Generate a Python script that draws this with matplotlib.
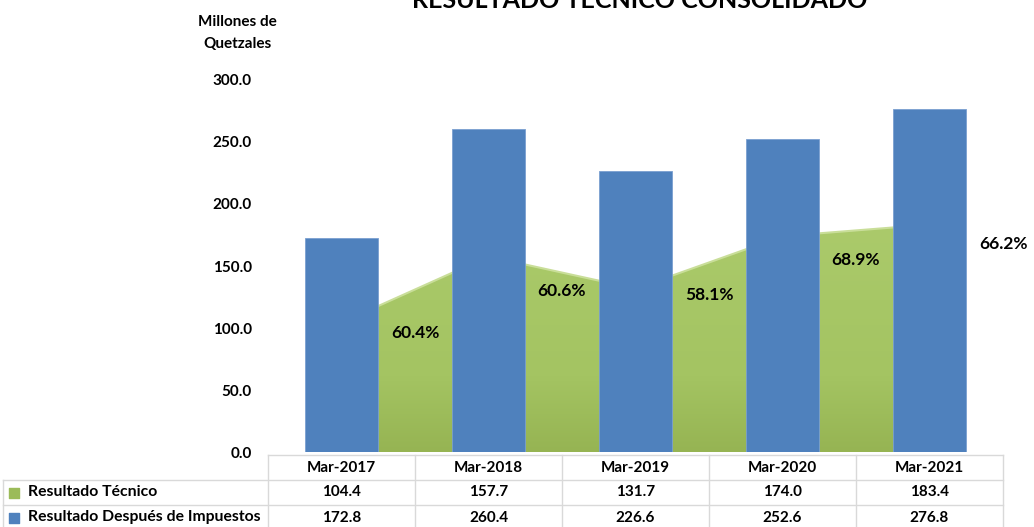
import numpy as np
import matplotlib
matplotlib.use("Agg")
import matplotlib.pyplot as plt
from matplotlib.transforms import blended_transform_factory
from matplotlib.colors import LinearSegmentedColormap

plt.rcParams['font.family'] = ['Lato', 'DejaVu Sans']
plt.rcParams['font.weight'] = 'bold'

# data
periods = ["Mar-2017", "Mar-2018", "Mar-2019", "Mar-2020", "Mar-2021"]
resultado_tecnico = [104.4, 157.7, 131.7, 174.0, 183.4]
resultado_despues = [172.8, 260.4, 226.6, 252.6, 276.8]
pct_labels = ["60.4%", "60.6%", "58.1%", "68.9%", "66.2%"]
pct_label_y = [96, 130, 127, 155, 168]
yticks = [0, 50, 100, 150, 200, 250, 300]

W, H = 1034, 527
fig = plt.figure(figsize=(W / 100, H / 100), dpi=100)
ax = fig.add_axes([268 / W, (H - 452) / H, (1003 - 268) / W, (452 - 80) / H])

x = np.arange(len(periods))
blue = '#4F81BD'

# green area with a vertical gradient, behind the bars
poly = ax.fill_between(x, resultado_tecnico, 0, color='none', zorder=1)
ax.plot(x, resultado_tecnico, color='#C9DE99', lw=1.5, zorder=2)
cmap = LinearSegmentedColormap.from_list('g', ['#96B453', '#A4C462', '#A7C766', '#ABCA6B'])
grad = np.linspace(0, 1, 256).reshape(-1, 1)
img = ax.imshow(grad, cmap=cmap, aspect='auto', origin='lower',
                extent=[0, 4, 0, max(resultado_tecnico)], zorder=1)
img.set_clip_path(poly.get_paths()[0], transform=ax.transData)

ax.bar(x, resultado_despues, width=0.5, color=blue, edgecolor='#7A9FD0', linewidth=0.6, zorder=3)

for i, (lab, ly) in enumerate(zip(pct_labels, pct_label_y)):
    ax.text(i + 0.5, ly, lab, ha='center', va='center', fontsize=12.5,
            fontweight='bold', zorder=5, clip_on=False)

ax.set_xlim(-0.5, 4.5)
ax.set_ylim(0, 300)
ax.set_yticks(yticks)
ax.set_yticklabels(["%.1f" % v for v in yticks], fontsize=11, fontweight='bold')
ax.tick_params(axis='y', length=0, pad=11.5)
ax.set_xticks([])
for s in ax.spines.values():
    s.set_visible(False)

fig.text(640 / W, 1 - 8 / H, "RESULTADO TÉCNICO CONSOLIDADO", ha='center', va='baseline',
         fontsize=18, fontweight='bold')
fig.text(237 / W, 1 - 33 / H, "Millones de\nQuetzales", ha='center', va='center',
         fontsize=11, fontweight='bold', linespacing=1.8)

# data table below the axes
tr = blended_transform_factory(ax.transData, ax.transAxes)
ph = 1 / (452 - 80)
r_top = -3 * ph
r1 = -28 * ph
r2 = -53 * ph
r3 = -78 * ph
lab_left = -265 / 735
grey = '#D9D9D9'
for b in np.arange(-0.5, 5, 1.0):
    ax.plot([b, b], [r_top, r3], color=grey, lw=1, transform=tr, clip_on=False)
ax.plot([-0.5, 4.5], [r_top, r_top], color=grey, lw=1, transform=tr, clip_on=False)
for yy in [r1, r2, r3]:
    ax.plot([lab_left, 1], [yy, yy], color=grey, lw=1, transform=ax.transAxes, clip_on=False)
ax.plot([lab_left, lab_left], [r1, r3], color=grey, lw=1, transform=ax.transAxes, clip_on=False)

for i, p in enumerate(periods):
    ax.text(i, (r_top + r1) / 2, p, ha='center', va='center', fontsize=11,
            fontweight='bold', transform=tr)
    ax.text(i, (r1 + r2) / 2, "%.1f" % resultado_tecnico[i], ha='center', va='center',
            fontsize=11, fontweight='bold', transform=tr)
    ax.text(i, (r2 + r3) / 2, "%.1f" % resultado_despues[i], ha='center', va='center',
            fontsize=11, fontweight='bold', transform=tr)

row_names = ["Resultado Técnico", "Resultado Después de Impuestos"]
row_colors = ['#9BBB59', blue]
for (name, c, yc) in zip(row_names, row_colors, [(r1 + r2) / 2, (r2 + r3) / 2]):
    ax.scatter([-254 / 735], [yc], marker='s', s=42, color=c, transform=ax.transAxes,
               clip_on=False, zorder=5)
    ax.text(-240 / 735, yc, name, ha='left', va='center', fontsize=11.3,
            fontweight='bold', transform=ax.transAxes)

fig.savefig("out.png", dpi=100)
